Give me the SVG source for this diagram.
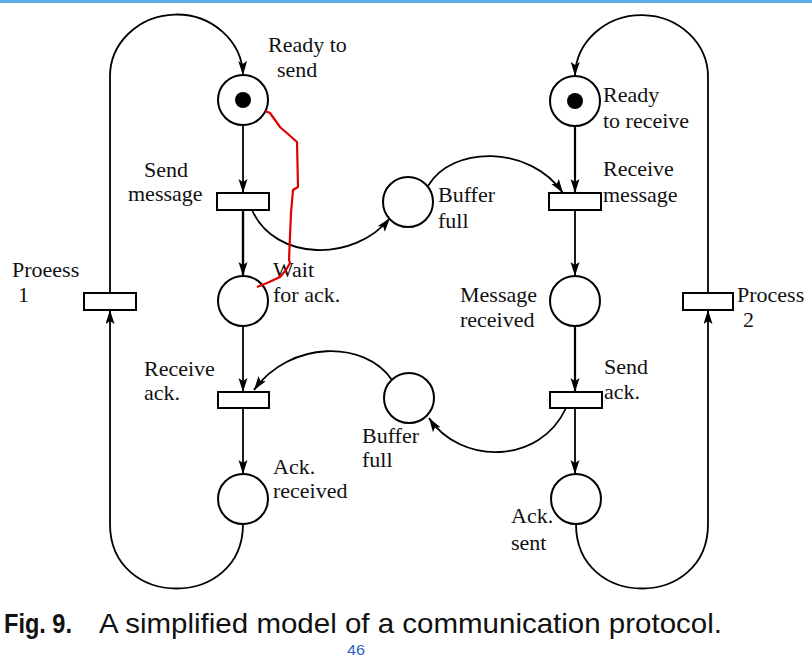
<svg xmlns="http://www.w3.org/2000/svg" width="812" height="658" viewBox="0 0 812 658">
<defs>
<marker id="arr" markerUnits="userSpaceOnUse" markerWidth="16" markerHeight="12" refX="14" refY="4.5" orient="auto">
<path d="M0,0 L14,4.5 L0,9 L3,4.5 z" fill="#000"/>
</marker>
<style>
.place{fill:#fff;stroke:#000;stroke-width:2}
.trans{fill:#fff;stroke:#000;stroke-width:2}
.token{fill:#000}
.arc{fill:none;stroke:#000;stroke-width:1.8}
.arr{marker-end:url(#arr)}
.lbl{font-family:"Liberation Serif","Times New Roman",serif;font-size:22px;fill:#111}
.cap{font-family:"Liberation Sans",Arial,sans-serif;font-size:28px;fill:#111}
</style>
</defs>
<rect x="0" y="0" width="812" height="658" fill="#fff"/>
<rect x="0" y="0" width="812" height="3" fill="#5aaee8"/>

<g id="connectors">
<path class="arc arr" d="M110,293 V78 A66.5,62 0 0 1 243,75"/>
<path class="arc arr" d="M243,125 V193"/>
<path class="arc arr" d="M243,210 V276" style="stroke-width:2.4"/>
<path class="arc arr" d="M243,326 V392"/>
<path class="arc arr" d="M243,408 V474"/>
<path class="arc arr" d="M243,524 C243,610 110,610 110,524 V310"/>
<path class="arc arr" d="M252,210 C275,262 355,262 390,218"/>
<path class="arc arr" d="M428,186 C452,145 530,145 563,193"/>
<path class="arc arr" d="M708,293 V78 A66.5,62 0 0 0 575,76"/>
<path class="arc arr" d="M575,126 V193" style="stroke-width:2.2"/>
<path class="arc arr" d="M575,210 V276"/>
<path class="arc arr" d="M575,326 V392" style="stroke-width:2.2"/>
<path class="arc arr" d="M575,408 V474"/>
<path class="arc arr" d="M576,524 C576,610 708,610 708,524 V310"/>
<path class="arc arr" d="M566,408 C540,465 460,465 429,418"/>
<path class="arc arr" d="M392,380 C365,340 290,340 254,390"/>
</g>

<g id="ready-to-send">
<circle class="place" cx="243" cy="100" r="25"/>
<circle class="token" cx="243" cy="100" r="8"/>
<text class="lbl" x="268" y="52">Ready to</text>
<text class="lbl" x="277" y="77">send</text>
</g>
<g id="send-message">
<rect class="trans" x="217" y="193" width="52" height="17"/>
<text class="lbl" x="144" y="177">Send</text>
<text class="lbl" x="128" y="201">message</text>
</g>
<g id="wait-for-ack">
<circle class="place" cx="243" cy="301" r="25"/>
<text class="lbl" x="273" y="277">Wait</text>
<text class="lbl" x="273" y="302">for ack.</text>
</g>
<g id="receive-ack">
<rect class="trans" x="218" y="392" width="51" height="16"/>
<text class="lbl" x="144" y="376">Receive</text>
<text class="lbl" x="144" y="400">ack.</text>
</g>
<g id="ack-received">
<circle class="place" cx="243" cy="499" r="25"/>
<text class="lbl" x="273" y="474">Ack.</text>
<text class="lbl" x="273" y="498">received</text>
</g>
<g id="process-1">
<rect class="trans" x="84" y="293" width="52" height="17"/>
<text class="lbl" x="12" y="277">Proeess</text>
<text class="lbl" x="18" y="302">1</text>
</g>
<g id="buffer-full-1">
<circle class="place" cx="408" cy="202" r="25"/>
<text class="lbl" x="438" y="202">Buffer</text>
<text class="lbl" x="438" y="228">full</text>
</g>
<g id="buffer-full-2">
<circle class="place" cx="409" cy="398" r="25"/>
<text class="lbl" x="362" y="443">Buffer</text>
<text class="lbl" x="362" y="467">full</text>
</g>
<g id="ready-to-receive">
<circle class="place" cx="575" cy="101" r="25"/>
<circle class="token" cx="575" cy="101" r="8"/>
<text class="lbl" x="603" y="102">Ready</text>
<text class="lbl" x="603" y="128">to receive</text>
</g>
<g id="receive-message">
<rect class="trans" x="549" y="193" width="52" height="17"/>
<text class="lbl" x="603" y="176">Receive</text>
<text class="lbl" x="603" y="202">message</text>
</g>
<g id="message-received">
<circle class="place" cx="575" cy="301" r="25"/>
<text class="lbl" x="460" y="302">Message</text>
<text class="lbl" x="460" y="327">received</text>
</g>
<g id="send-ack">
<rect class="trans" x="550" y="392" width="52" height="16"/>
<text class="lbl" x="604" y="374">Send</text>
<text class="lbl" x="604" y="399">ack.</text>
</g>
<g id="ack-sent">
<circle class="place" cx="576" cy="499" r="25"/>
<text class="lbl" x="511" y="523">Ack.</text>
<text class="lbl" x="511" y="550">sent</text>
</g>
<g id="process-2">
<rect class="trans" x="683" y="293" width="50" height="17"/>
<text class="lbl" x="737" y="302">Process</text>
<text class="lbl" x="743" y="327">2</text>
</g>

<polyline points="265,111 270,113 280,127 297,142 298,187 293,190 291,213 289,260 290,263 286,270 280,277 267,283 257,287" fill="none" stroke="#e00000" stroke-width="2.2" stroke-linejoin="round"/>

<text class="cap" x="4" y="633" font-weight="bold" textLength="68" lengthAdjust="spacingAndGlyphs">Fig. 9.</text>
<text class="cap" x="99" y="633" textLength="623" lengthAdjust="spacingAndGlyphs">A simplified model of a communication protocol.</text>
<text x="347" y="655" font-family="Liberation Sans, Arial, sans-serif" font-size="15" fill="#2f5fbf" textLength="18" lengthAdjust="spacingAndGlyphs">46</text>
</svg>
